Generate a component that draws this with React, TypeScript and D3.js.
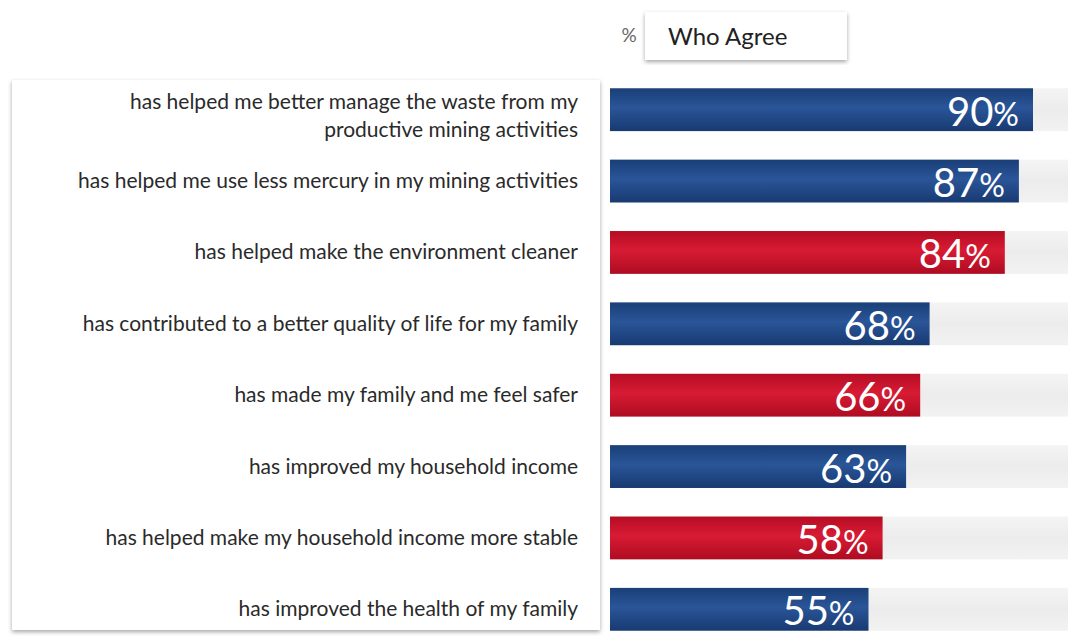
import * as React from 'react'
import * as d3 from 'd3'

const statements = [
  ['has helped me better manage the waste from my', 'productive mining activities'],
  ['has helped me use less mercury in my mining activities'],
  ['has helped make the environment cleaner'],
  ['has contributed to a better quality of life for my family'],
  ['has made my family and me feel safer'],
  ['has improved my household income'],
  ['has helped make my household income more stable'],
  ['has improved the health of my family'],
]
const agreePct = [90, 87, 84, 68, 66, 63, 58, 55]
const highlighted = [false, false, true, false, true, false, true, false]
const legendLabel = 'Who Agree'

const W = 1068
const H = 636

export default function App() {
  const svgRef = React.useRef<SVGSVGElement>(null)

  React.useEffect(() => {
    if (!svgRef.current) return
    const svg = d3.select(svgRef.current)
    svg.selectAll('*').remove()

    const defs = svg.append('defs')
    const mkGrad = (id: string, stops: [number, string][]) => {
      const g = defs.append('linearGradient').attr('id', id).attr('x1', 0).attr('x2', 0).attr('y1', 0).attr('y2', 1)
      stops.forEach(([o, c]) => g.append('stop').attr('offset', `${o}%`).attr('stop-color', c))
    }
    mkGrad('blueGrad', [[0, '#1a3f78'], [45, '#2a5598'], [100, '#183a72']])
    mkGrad('redGrad', [[0, '#b50d23'], [45, '#d81b34'], [100, '#ae0c21']])
    mkGrad('trackGrad', [[0, '#f4f4f4'], [50, '#ececec'], [100, '#f2f2f2']])

    const shadow = defs.append('filter').attr('id', 'shadow').attr('x', '-5%').attr('y', '-5%').attr('width', '110%').attr('height', '115%')
    shadow.append('feDropShadow').attr('dx', 0).attr('dy', 2).attr('stdDeviation', 2).attr('flood-color', '#000').attr('flood-opacity', 0.35)

    svg.append('rect').attr('width', W).attr('height', H).attr('fill', '#ffffff')

    // left label panel
    svg.append('rect')
      .attr('x', 12).attr('y', 80).attr('width', 588).attr('height', 550)
      .attr('fill', '#fff').attr('filter', 'url(#shadow)')

    const x = d3.scaleLinear().domain([0, 100]).range([610, 1080])
    const y = d3.scaleBand<number>().domain(d3.range(agreePct.length)).range([74, 645]).paddingInner(0.4).paddingOuter(0.2)

    // legend
    svg.append('text').attr('x', 629).attr('y', 42).attr('text-anchor', 'middle')
      .attr('font-family', 'Lato, sans-serif').attr('font-size', 19).attr('fill', '#666').text('%')
    svg.append('rect').attr('x', 645).attr('y', 12).attr('width', 202).attr('height', 48)
      .attr('fill', '#fff').attr('filter', 'url(#shadow)')
    svg.append('text').attr('x', 668).attr('y', 45)
      .attr('font-family', 'Lato, sans-serif').attr('font-size', 24).attr('fill', '#222').text(legendLabel)

    const rows = svg.append('g').selectAll('g').data(agreePct).join('g')

    rows.append('rect')
      .attr('x', x(0)).attr('y', (_, i) => y(i)!)
      .attr('width', x(100) - x(0)).attr('height', y.bandwidth())
      .attr('fill', 'url(#trackGrad)')

    rows.append('rect')
      .attr('x', x(0)).attr('y', (_, i) => y(i)!)
      .attr('width', (d) => x(d) - x(0)).attr('height', y.bandwidth())
      .attr('fill', (_, i) => (highlighted[i] ? 'url(#redGrad)' : 'url(#blueGrad)'))

    const val = rows.append('text')
      .attr('x', (d) => x(d) - 14)
      .attr('y', (_, i) => y(i)! + y.bandwidth() / 2 + 16)
      .attr('text-anchor', 'end')
      .attr('font-family', 'Lato, sans-serif').attr('fill', '#fff')
    val.append('tspan').attr('font-size', 40).text((d) => d)
    val.append('tspan').attr('font-size', 32).text('%')

    rows.each(function (_, i) {
      const lines = statements[i]
      const cy = y(i)! + y.bandwidth() / 2
      const t = d3.select(this).append('text')
        .attr('text-anchor', 'end')
        .attr('font-family', 'Lato, sans-serif').attr('font-size', 21).attr('fill', '#2a2a2a')
      lines.forEach((line, k) => {
        t.append('tspan').attr('x', 578)
          .attr('y', cy + 7 + (lines.length > 1 ? (k === 0 ? -8 : 20) : 0))
          .text(line)
      })
    })
  }, [])

  return (
    <div style={{ position: 'fixed', left: 0, top: 0 }}>
      <svg ref={svgRef} width={W} height={H} style={{ display: 'block' }} />
    </div>
  )
}
